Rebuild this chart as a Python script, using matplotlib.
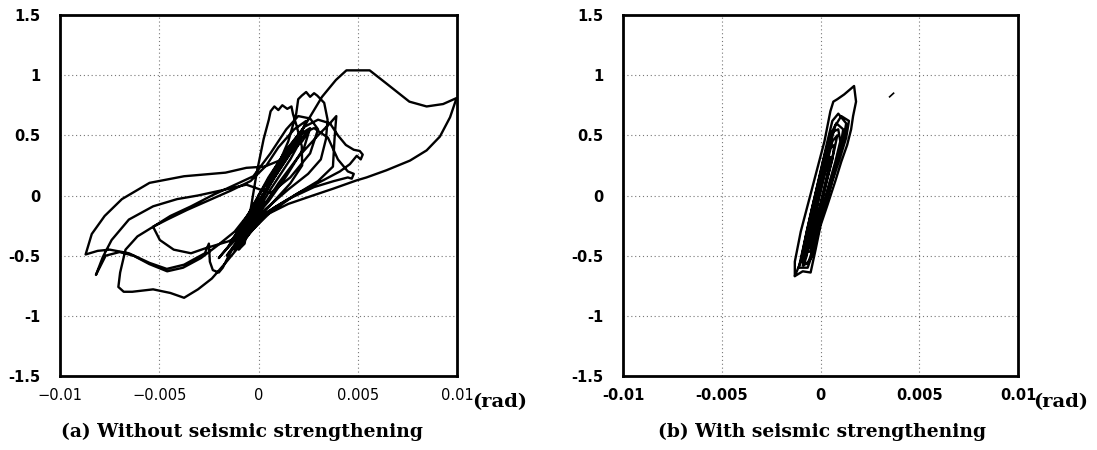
import numpy as np
import matplotlib
matplotlib.use("Agg")
import matplotlib.pyplot as plt
from matplotlib.transforms import offset_copy

# ---------------- data (drift in milli-radians, normalized load) ----------------
left_drift_mrad = [
    0.0, 0.8, 1.5, 2.2, 2.6, 2.3, 1.4, 0.5, -0.4, -1.0, -1.2, -0.8, 0.2, 1.0, 2.0, 3.0, 3.6, 3.92, 3.83, 3.75,
    3.0, 1.8, 0.6, -0.4, -1.0, -0.7,
    -0.4, -0.1, 0.26, 0.52, 0.61, 0.8, 1.0, 1.2, 1.45, 1.66, 1.74, 1.92, 2.18, 2.2, 1.6, 0.6, -0.4, -1.3, -1.6, -1.2,
    -0.2, 0.8, 1.5, 1.9, 2.0, 2.18, 2.4, 2.6, 2.8, 2.96, 3.31, 3.48, 3.4, 3.14, 2.5, 1.5, 0.3, -0.8, -1.8, -2.0, -1.5,
    -0.5, 0.5, 1.5, 2.3, 3.0, 3.6, 4.0, 4.4, 4.8, 5.1, 5.25, 5.15, 4.95, 4.6, 4.1, 3.3, 2.0, 0.8, -0.5, -1.5,
    -1.0, 0.2, 1.2, 2.0, 2.8, 3.5, 4.0, 4.5, 4.8, 4.7, 4.5, 3.8, 2.8, 1.5, 0.3,
    -0.5, -1.5, -2.7, -3.4, -4.27, -4.97, -5.31, -4.44, -3.4, -2.35, -1.31, -0.26, 0.6, 1.4, 2.0, 2.6, 3.0, 2.6, 1.6, 0.6,
    -0.61, -1.66, -3.05, -4.1, -5.31, -6.53, -7.4, -7.84, -8.19, -7.7, -7.0, -6.3, -5.5, -4.6, -3.8, -2.9, -2.1, -1.2,
    0.0, 1.0, 2.0, 2.6,
    2.2, 1.2, 0.3, -0.61, -1.66, -3.75, -5.49, -6.88, -7.75, -8.4, -8.71, -8.1, -7.49, -6.53, -5.49, -4.62, -3.75,
    -2.7, -2.5, -2.45, -2.3, -2.0, -1.8, -1.5, -0.8, 0.0, 0.8, 1.6, 2.4, 3.2, 3.9, 4.43, 5.6, 6.45, 7.6, 8.47, 9.3,
    9.98, 9.65, 9.14, 8.47, 7.63, 6.45, 5.44, 4.93, 3.75, 2.74, 1.5, 0.4, -0.26,
    -0.96, -1.66, -2.35, -3.05, -3.75, -4.44, -5.31, -6.36, -6.79, -7.06, -6.97, -6.7, -6.1, -5.31,
    -4.6, -3.6, -2.5, -1.4, -0.4, 0.4, 1.0,
    1.8, 2.4, 2.0, 1.0, 0.0, -0.8, -1.4, -1.0, -0.2, 0.6, 1.4, 2.0, 1.6, 0.6, -0.3, -0.9, -0.5, 0.3,
]
left_load = [
    0.0, 0.2, 0.38, 0.52, 0.56, 0.4, 0.16, -0.05, -0.22, -0.38, -0.46, -0.36, -0.1, 0.1, 0.32, 0.5, 0.6, 0.66, 0.47, 0.24,
    0.12, 0.0, -0.14, -0.3, -0.45, -0.4,
    -0.12, 0.18, 0.47, 0.63, 0.70, 0.74, 0.71, 0.75, 0.72, 0.74, 0.675, 0.58, 0.41, 0.25, 0.1, -0.08, -0.25, -0.43, -0.5, -0.42,
    -0.12, 0.18, 0.45, 0.68, 0.8, 0.83, 0.86, 0.82, 0.85, 0.83, 0.77, 0.63, 0.47, 0.3, 0.18, 0.05, -0.12, -0.3, -0.48, -0.52, -0.42,
    -0.15, 0.15, 0.4, 0.57, 0.63, 0.6, 0.5, 0.42, 0.38, 0.37, 0.34, 0.3, 0.33, 0.26, 0.2, 0.13, 0.02, -0.1, -0.27, -0.42,
    -0.3, 0.05, 0.33, 0.5, 0.56, 0.48, 0.3, 0.2, 0.18, 0.14, 0.15, 0.12, 0.07, -0.03, -0.15,
    -0.3, -0.38, -0.44, -0.48, -0.45, -0.37, -0.26, -0.17, -0.09, 0.0, 0.08, 0.16, 0.35, 0.55, 0.66, 0.64, 0.55, 0.35, 0.15, 0.02,
    0.09, 0.05, 0.0, -0.03, -0.09, -0.2, -0.37, -0.51, -0.66, -0.5, -0.47, -0.5, -0.57, -0.63, -0.6, -0.52, -0.42, -0.3,
    -0.05, 0.2, 0.45, 0.55,
    0.45, 0.3, 0.24, 0.23, 0.19, 0.16, 0.105, -0.03, -0.17, -0.32, -0.49, -0.46, -0.45, -0.48, -0.56, -0.61, -0.575,
    -0.48, -0.4, -0.55, -0.62, -0.64, -0.6, -0.5, -0.3, -0.08, 0.15, 0.38, 0.6, 0.82, 0.96, 1.04, 1.04, 0.93, 0.78, 0.74, 0.76,
    0.81, 0.65, 0.49, 0.375, 0.29, 0.21, 0.15, 0.125, 0.056, 0.0, -0.07, -0.16, -0.28,
    -0.42, -0.56, -0.69, -0.78, -0.85, -0.81, -0.78, -0.8, -0.8, -0.76, -0.64, -0.45, -0.34, -0.26,
    -0.2, -0.12, -0.04, 0.04, 0.12, 0.25, 0.4,
    0.55, 0.62, 0.45, 0.2, -0.05, -0.25, -0.38, -0.32, -0.12, 0.1, 0.32, 0.42, 0.3, 0.05, -0.2, -0.4, -0.28, -0.05,
]

right_drift_mrad = [
    -1.3, -1.3, -1.0, -0.6, -0.2, 0.2, 0.5, 0.65, 0.85, 1.2, 1.7, 1.8, 1.65, 1.55, 1.35, 1.05, 0.75, 0.35, 0.0,
    -0.25, -0.5, -0.9, -1.3,
    -1.0, -0.7, -0.35, 0.0, 0.35, 0.6, 0.9, 1.3, 1.15, 0.9, 0.55, 0.2, -0.1, -0.4, -0.7, -1.0,
    -0.8, -0.5, -0.15, 0.2, 0.5, 0.9, 1.0, 0.75, 0.4, 0.05, -0.25, -0.5, -0.8,
    -0.6, -0.3, 0.05, 0.4, 0.7, 0.6, 0.25, -0.1, -0.4, -0.6,
    -0.4, -0.1, 0.3, 0.5, 0.3, -0.05, -0.3,
    -0.9, -0.6, -0.25, 0.1, 0.45, 0.75, 1.05, 1.44, 1.3, 1.0, 0.6, 0.2, -0.15, -0.4, -0.65,
    -1.1, -0.8, -0.45, -0.1, 0.25, 0.55, 0.8, 1.15, 1.0, 0.7, 0.35, 0.0, -0.3, -0.6, -0.85,
    -0.7, -0.4, -0.05, 0.3, 0.6, 0.85, 0.7, 0.4, 0.05, -0.25, -0.5,
]
right_load = [
    -0.67, -0.55, -0.3, -0.05, 0.2, 0.45, 0.7, 0.78, 0.8, 0.84, 0.91, 0.78, 0.66, 0.55, 0.42, 0.28, 0.12, -0.08, -0.25,
    -0.45, -0.64, -0.63, -0.67,
    -0.55, -0.3, -0.05, 0.2, 0.45, 0.62, 0.68, 0.6, 0.45, 0.3, 0.1, -0.1, -0.3, -0.5, -0.57, -0.55,
    -0.45, -0.2, 0.05, 0.3, 0.52, 0.55, 0.45, 0.28, 0.08, -0.12, -0.32, -0.47, -0.45,
    -0.35, -0.1, 0.15, 0.38, 0.42, 0.3, 0.08, -0.15, -0.33, -0.35,
    -0.3, -0.02, 0.25, 0.32, 0.15, -0.1, -0.28,
    -0.58, -0.35, -0.1, 0.15, 0.4, 0.58, 0.66, 0.62, 0.48, 0.32, 0.12, -0.1, -0.3, -0.48, -0.6,
    -0.6, -0.38, -0.12, 0.12, 0.36, 0.52, 0.6, 0.55, 0.4, 0.22, 0.02, -0.2, -0.4, -0.55, -0.58,
    -0.5, -0.25, 0.0, 0.25, 0.45, 0.5, 0.38, 0.18, -0.05, -0.28, -0.45,
]

stray_drift_mrad = [3.5, 3.7]
stray_load = [0.82, 0.85]

x_ticks = [-0.01, -0.005, 0, 0.005, 0.01]
y_ticks = [-1.5, -1, -0.5, 0, 0.5, 1, 1.5]
left_xlabels = ["\u22120.01", "\u22120.005", "0", "0.005", "0.01"]
right_xlabels = ["-0.01", "-0.005", "0", "0.005", "0.01"]
y_labels = ["-1.5", "-1", "-0.5", "0", "0.5", "1", "1.5"]
captions = ["(a) Without seismic strengthening", "(b) With seismic strengthening"]
unit_label = "(rad)"

# ---------------- figure ----------------
fig = plt.figure(figsize=(10.97, 4.5), dpi=100)
axL = fig.add_axes([60 / 1097, 74 / 450, 397 / 1097, 361 / 450])
axR = fig.add_axes([623 / 1097, 74 / 450, 395 / 1097, 361 / 450])


def style(ax, xlabels, xbold):
    ax.set_xlim(-0.01, 0.01)
    ax.set_ylim(-1.5, 1.5)
    ax.set_xticks(x_ticks)
    ax.set_yticks(y_ticks)
    ax.set_xticklabels(xlabels, fontsize=10.5, fontweight="bold" if xbold else "normal",
                       family="DejaVu Sans")
    ax.set_yticklabels(y_labels, fontsize=10.5, fontweight="bold", family="DejaVu Sans")
    ax.tick_params(axis="both", length=0)
    ax.tick_params(axis="y", pad=14)
    ax.tick_params(axis="x", pad=9)
    ax.grid(True, color="#777777", linestyle=(0, (1, 2.5)), linewidth=0.8)
    ax.set_axisbelow(True)
    for s in ax.spines.values():
        s.set_linewidth(2.0)
        s.set_color("black")


style(axL, left_xlabels, False)
style(axR, right_xlabels, True)

axL.plot(np.array(left_drift_mrad) * 1e-3, left_load, color="black", lw=1.7,
         solid_joinstyle="round", solid_capstyle="round")
axR.plot(np.array(right_drift_mrad) * 1e-3, right_load, color="black", lw=1.7,
         solid_joinstyle="round", solid_capstyle="round")
axR.plot(np.array(stray_drift_mrad) * 1e-3, stray_load, color="black", lw=1.2)

for ax in (axL, axR):
    tr = offset_copy(ax.transAxes, fig=fig, x=15, y=-26, units="dots")
    ax.text(1.0, 0.0, unit_label, transform=tr, fontsize=14,
            fontweight="bold", family="DejaVu Serif", ha="left", va="center")

fig.text(242 / 1097, 0.04, captions[0], fontsize=13.5, fontweight="bold",
         family="DejaVu Serif", ha="center", va="center")
fig.text(822 / 1097, 0.04, captions[1], fontsize=13.5, fontweight="bold",
         family="DejaVu Serif", ha="center", va="center")

fig.savefig("out.png", dpi=100)
